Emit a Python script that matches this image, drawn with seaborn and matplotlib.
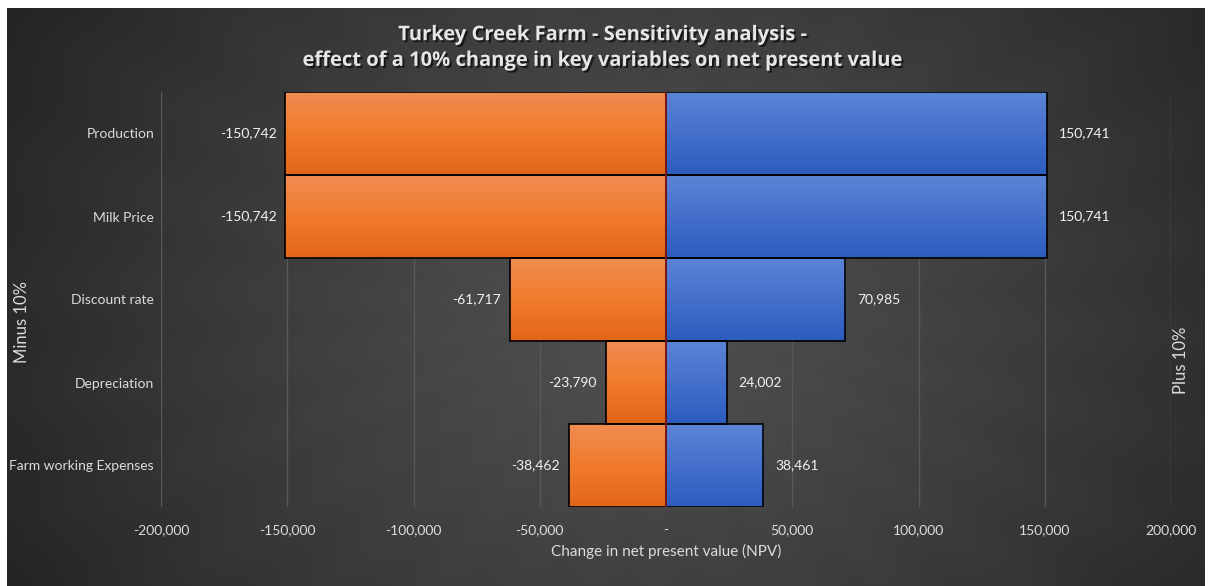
import numpy as np
import pandas as pd
import matplotlib
matplotlib.use("Agg")
import matplotlib.pyplot as plt
import matplotlib.patheffects as pe
from matplotlib.colors import LinearSegmentedColormap
from matplotlib.ticker import FuncFormatter
import seaborn as sns

# Sensitivity of NPV to a 10% change in each key variable
categories = ["Production", "Milk Price", "Discount rate", "Depreciation",
              "Farm working Expenses"]
minus_10 = [-150742, -150742, -61717, -23790, -38462]
plus_10 = [150741, 150741, 70985, 24002, 38461]
x_ticks = [-200000, -150000, -100000, -50000, 0, 50000, 100000, 150000, 200000]

title = ("Turkey Creek Farm - Sensitivity analysis -\n"
         "effect of a 10% change in key variables on net present value")

sns.set_theme(style="dark")
plt.rcParams["font.family"] = ["Lato", "DejaVu Sans"]

W, H = 1210, 586
fig = plt.figure(figsize=(W / 100, H / 100), dpi=100, facecolor="white")

# Dark chart area with a soft radial glow and faint sunburst rays
bg = fig.add_axes([7 / W, 0, (1205 - 7) / W, (586 - 8) / H])
bg.set_axis_off()
ny, nx = 300, 620
yy, xx = np.mgrid[0:ny, 0:nx]
cx, cy = nx * 0.53, ny * 0.52
dx = (xx - cx) / nx
dy = (yy - cy) / ny * 0.55
r = np.sqrt(dx ** 2 + dy ** 2)
theta = np.arctan2(dy, dx)
rays = 1 + 0.018 * np.sin(30 * theta) * np.clip(r * 2.5, 0, 1)
lum = (0.31 - 0.17 * np.clip(r / 0.6, 0, 1) ** 1.3) * rays
lum = np.clip(lum, 0.13, 0.4)
bg.imshow(np.dstack([lum, lum, lum]), aspect="auto", extent=(0, 1, 0, 1),
          interpolation="bilinear")
bg.set_xlim(0, 1)
bg.set_ylim(0, 1)

left, right, top, bottom = 161, 1171, 92, 507
ax = fig.add_axes([left / W, 1 - bottom / H, (right - left) / W, (bottom - top) / H])
ax.set_facecolor("none")

df = pd.DataFrame({
    "category": categories * 2,
    "value": minus_10 + plus_10,
    "side": ["Minus 10%"] * len(categories) + ["Plus 10%"] * len(categories),
})
palette = {"Minus 10%": "#ee7a2f", "Plus 10%": "#4472c4"}
sns.barplot(data=df, x="value", y="category", hue="side", dodge=False,
            width=1.0, palette=palette, edgecolor="black", linewidth=1.2,
            legend=False, ax=ax, order=categories)

grad_orange = LinearSegmentedColormap.from_list("o", ["#f08c52", "#f17b2c", "#e2661a"])
grad_blue = LinearSegmentedColormap.from_list("b", ["#5b84d6", "#4470cc", "#2c5cbe"])
ramp = np.linspace(0, 1, 64).reshape(-1, 1)

for patch in list(ax.patches):
    bb = patch.get_bbox()
    x0, x1 = min(bb.x0, bb.x1), max(bb.x0, bb.x1)
    y0, y1 = min(bb.y0, bb.y1), max(bb.y0, bb.y1)
    cmap = grad_orange if x0 < 0 else grad_blue
    im = ax.imshow(ramp, cmap=cmap, aspect="auto", extent=(x0, x1, y1, y0),
                   origin="upper", zorder=1.5, interpolation="bilinear")
    im.set_clip_path(patch)
    patch.set_facecolor("none")
    patch.set_zorder(2)

ax.axvline(0, color="#8a1c1c", lw=1.2, zorder=2.5)

ax.set_xlim(-200000, 200000)
ax.set_ylim(len(categories) - 0.5, -0.5)
ax.set_xticks(x_ticks)
ax.xaxis.set_major_formatter(FuncFormatter(lambda v, p: "-" if v == 0 else f"{v:,.0f}"))
ax.grid(axis="x", color="#585858", lw=1)
ax.grid(axis="y", visible=False)
ax.set_axisbelow(True)
for s in ax.spines.values():
    s.set_visible(False)
ax.tick_params(axis="both", length=0, colors="#dcdcdc", labelsize=10)
ax.tick_params(axis="x", pad=12)
ax.tick_params(axis="y", pad=5)
ax.set_xlabel("Change in net present value (NPV)", color="#dcdcdc", fontsize=11, labelpad=6)
ax.set_ylabel("")

# Value labels just outside each bar end
for i, (m, p) in enumerate(zip(minus_10, plus_10)):
    ax.annotate(f"{m:,.0f}", xy=(m, i), xytext=(-9, 0), textcoords="offset pixels",
                ha="right", va="center", color="#f2f2f2", fontsize=10)
    ax.annotate(f"{p:,.0f}", xy=(p, i), xytext=(12, 0), textcoords="offset pixels",
                ha="left", va="center", color="#f2f2f2", fontsize=10)

# Keep the long category label inside the dark chart area
fig.canvas.draw()
for lbl in ax.get_yticklabels():
    lbl.set_clip_on(True)
    lbl.set_clip_box(bg.bbox)

fig.text(22 / W, 1 - 322 / H, "Minus 10%", rotation=90, ha="center", va="center",
         color="#dcdcdc", fontsize=12)
fig.text(1181 / W, 1 - 360 / H, "Plus 10%", rotation=90, ha="center", va="center",
         color="#dcdcdc", fontsize=12)

fig.text(603 / W, 1 - 48 / H, title, ha="center", va="center", color="#e6e6e6",
         fontsize=14.5, fontweight="bold", linespacing=1.38,
         family=["Open Sans", "DejaVu Sans"],
         path_effects=[pe.withSimplePatchShadow(offset=(1.5, -1.5), shadow_rgbFace="black", alpha=0.6)])

fig.savefig("out.png", dpi=100, facecolor="white")
